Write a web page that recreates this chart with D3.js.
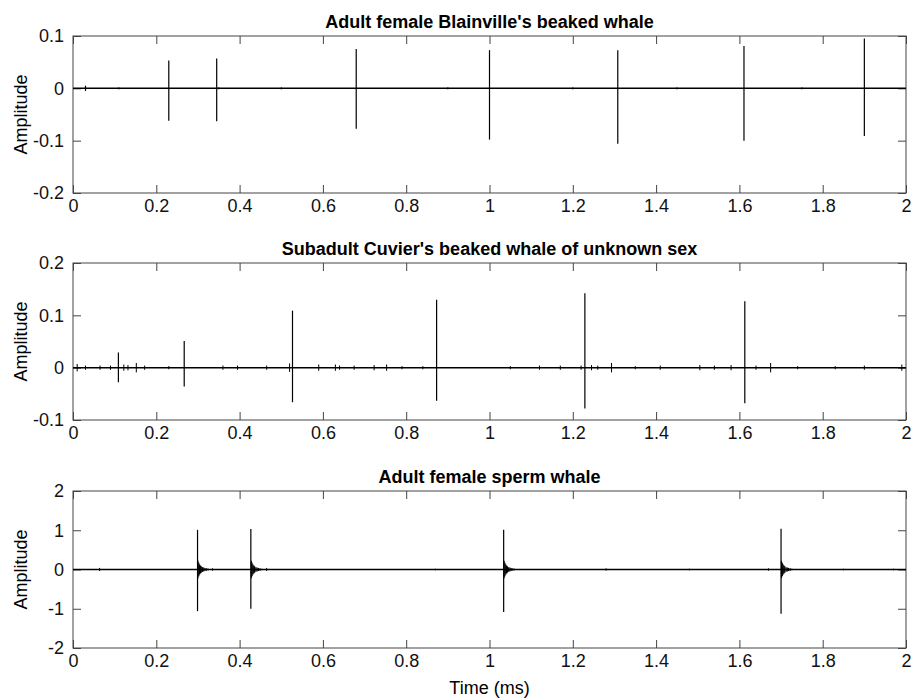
<!DOCTYPE html>
<html>
<head>
<meta charset="utf-8">
<script src="https://cdn.jsdelivr.net/npm/d3@7"></script>
<style>
  body { margin: 0; background: #fff; }
  svg { font-family: "Liberation Sans", Arial, Helvetica, sans-serif; }
</style>
</head>
<body>
<div id="chart"></div>
<script>
// panel titles
const titles = [
  "Adult female Blainville's beaked whale",
  "Subadult Cuvier's beaked whale of unknown sex",
  "Adult female sperm whale"
];
// y domains and ticks per panel
const yDomains = [[-0.2, 0.1], [-0.1, 0.2], [-2, 2]];
const yTicks = [[-0.2, -0.1, 0, 0.1], [-0.1, 0, 0.1, 0.2], [-2, -1, 0, 1, 2]];
const xTicks = [0, 0.2, 0.4, 0.6, 0.8, 1, 1.2, 1.4, 1.6, 1.8, 2];

// main clicks: time (ms), positive peak, negative peak
const blainvilleClicks = [
  [0.03, 0.005, -0.005], [0.23, 0.053, -0.062], [0.345, 0.057, -0.063],
  [0.68, 0.075, -0.077], [1.0, 0.073, -0.098], [1.308, 0.073, -0.106],
  [1.611, 0.081, -0.100], [1.90, 0.095, -0.091]
];
const cuvierClicks = [
  [0.109, 0.029, -0.028], [0.267, 0.051, -0.036], [0.527, 0.109, -0.066],
  [0.873, 0.130, -0.063], [1.229, 0.142, -0.078], [1.613, 0.127, -0.068]
];
const spermClicks = [
  [0.299, 1.01, -1.06], [0.427, 1.03, -1.00], [1.034, 1.01, -1.08], [1.700, 1.04, -1.13]
];
// small background clicks: time, amplitude (symmetric)
const blainvilleNoise = [
  [0.11, 0.002], [0.35, 0.002], [0.5, 0.002], [0.9, 0.002], [1.2, 0.002], [1.45, 0.002], [1.75, 0.002]
];
const cuvierNoise = [
  [0.01, 0.007], [0.03, 0.004], [0.065, 0.004], [0.09, 0.004], [0.122, 0.006], [0.132, 0.005],
  [0.152, 0.009], [0.172, 0.004], [0.23, 0.003], [0.36, 0.004], [0.395, 0.004], [0.465, 0.004],
  [0.52, 0.008], [0.59, 0.006], [0.63, 0.006], [0.64, 0.004], [0.675, 0.004], [0.723, 0.005],
  [0.753, 0.006], [0.79, 0.003], [0.84, 0.003], [1.05, 0.003], [1.12, 0.004], [1.17, 0.004],
  [1.22, 0.004], [1.245, 0.005], [1.26, 0.004], [1.293, 0.009], [1.35, 0.003], [1.41, 0.004],
  [1.505, 0.005], [1.54, 0.004], [1.58, 0.005], [1.64, 0.004], [1.675, 0.009], [1.74, 0.003],
  [1.83, 0.003], [1.9, 0.004], [1.99, 0.006]
];
const spermNoise = [
  [0.064, 0.04], [0.335, 0.03], [0.465, 0.04], [0.87, 0.02], [1.28, 0.03], [1.48, 0.02],
  [1.67, 0.03], [1.85, 0.02], [1.97, 0.02]
];
// ringing after each sperm whale click: offset (ms), amplitude
const spermTail = [
  [0.001, 0.22], [0.003, 0.17], [0.005, 0.13], [0.007, 0.10], [0.009, 0.08],
  [0.012, 0.06], [0.015, 0.05], [0.018, 0.04], [0.022, 0.03], [0.026, 0.02]
];

const panels = [
  { clicks: blainvilleClicks, noise: blainvilleNoise, tail: [] },
  { clicks: cuvierClicks, noise: cuvierNoise, tail: [] },
  { clicks: spermClicks, noise: spermNoise, tail: spermTail }
];

const W = 912, H = 698;
const left = 73, right = 906;
const tops = [36, 263, 491];
const ph = 157;
const tickLen = 8;
const axisColor = "#444";
const fs = 18;
// plain hyphen for negatives, like the original figure
const fmt = d => String(d);

const svg = d3.select("#chart").append("svg")
  .attr("width", W).attr("height", H);

const x = d3.scaleLinear().domain([0, 2]).range([left, right]);

panels.forEach((p, i) => {
  const top = tops[i], bottom = top + ph;
  const y = d3.scaleLinear().domain(yDomains[i]).range([bottom, top]);
  const g = svg.append("g");

  // box
  g.append("rect")
    .attr("x", left).attr("y", top)
    .attr("width", right - left).attr("height", ph)
    .attr("fill", "none").attr("stroke", axisColor).attr("stroke-width", 1);

  // inward ticks on all four sides
  g.append("g").attr("transform", `translate(0,${bottom})`)
    .call(d3.axisBottom(x).tickValues(xTicks).tickSize(-tickLen).tickPadding(6).tickFormat(fmt))
    .call(a => a.select(".domain").remove())
    .call(a => a.selectAll("line").attr("stroke", axisColor))
    .call(a => a.selectAll("text").attr("font-size", fs).attr("fill", "#111").attr("font-family", null));
  g.append("g").attr("transform", `translate(0,${top})`)
    .call(d3.axisTop(x).tickValues(xTicks).tickSize(-tickLen).tickFormat(""))
    .call(a => a.select(".domain").remove())
    .call(a => a.selectAll("line").attr("stroke", axisColor));
  g.append("g").attr("transform", `translate(${left},0)`)
    .call(d3.axisLeft(y).tickValues(yTicks[i]).tickSize(-tickLen).tickPadding(9).tickFormat(fmt))
    .call(a => a.select(".domain").remove())
    .call(a => a.selectAll("line").attr("stroke", axisColor))
    .call(a => a.selectAll("text").attr("font-size", fs).attr("fill", "#111").attr("font-family", null));
  g.append("g").attr("transform", `translate(${right},0)`)
    .call(d3.axisRight(y).tickValues(yTicks[i]).tickSize(-tickLen).tickFormat(""))
    .call(a => a.select(".domain").remove())
    .call(a => a.selectAll("line").attr("stroke", axisColor));

  // baseline of the waveform
  g.append("line")
    .attr("x1", x(0)).attr("x2", x(2))
    .attr("y1", y(0)).attr("y2", y(0))
    .attr("stroke", "#000").attr("stroke-width", 1.5);

  // small background clicks
  g.selectAll(".noise").data(p.noise).join("line")
    .attr("class", "noise")
    .attr("x1", d => x(d[0])).attr("x2", d => x(d[0]))
    .attr("y1", d => y(d[1])).attr("y2", d => y(-d[1]))
    .attr("stroke", "#000").attr("stroke-width", 1);

  // ringing after the main clicks
  const tailPts = [];
  p.clicks.forEach(c => p.tail.forEach(t => tailPts.push([c[0] + t[0], t[1]])));
  g.selectAll(".tail").data(tailPts).join("line")
    .attr("class", "tail")
    .attr("x1", d => x(d[0])).attr("x2", d => x(d[0]))
    .attr("y1", d => y(d[1])).attr("y2", d => y(-d[1]))
    .attr("stroke", "#000").attr("stroke-width", 1.2);

  // main clicks
  g.selectAll(".click").data(p.clicks).join("line")
    .attr("class", "click")
    .attr("x1", d => x(d[0])).attr("x2", d => x(d[0]))
    .attr("y1", d => y(d[1])).attr("y2", d => y(d[2]))
    .attr("stroke", "#000").attr("stroke-width", 1.2);

  // title
  g.append("text")
    .attr("x", (left + right) / 2).attr("y", top - 8)
    .attr("text-anchor", "middle")
    .attr("font-size", fs).attr("font-weight", "bold")
    .text(titles[i]);

  // y label
  g.append("text")
    .attr("transform", `translate(27,${(top + bottom) / 2}) rotate(-90)`)
    .attr("text-anchor", "middle")
    .attr("font-size", fs)
    .text("Amplitude");
});

svg.append("text")
  .attr("x", (left + right) / 2).attr("y", 694)
  .attr("text-anchor", "middle")
  .attr("font-size", fs)
  .text("Time (ms)");
</script>
</body>
</html>
